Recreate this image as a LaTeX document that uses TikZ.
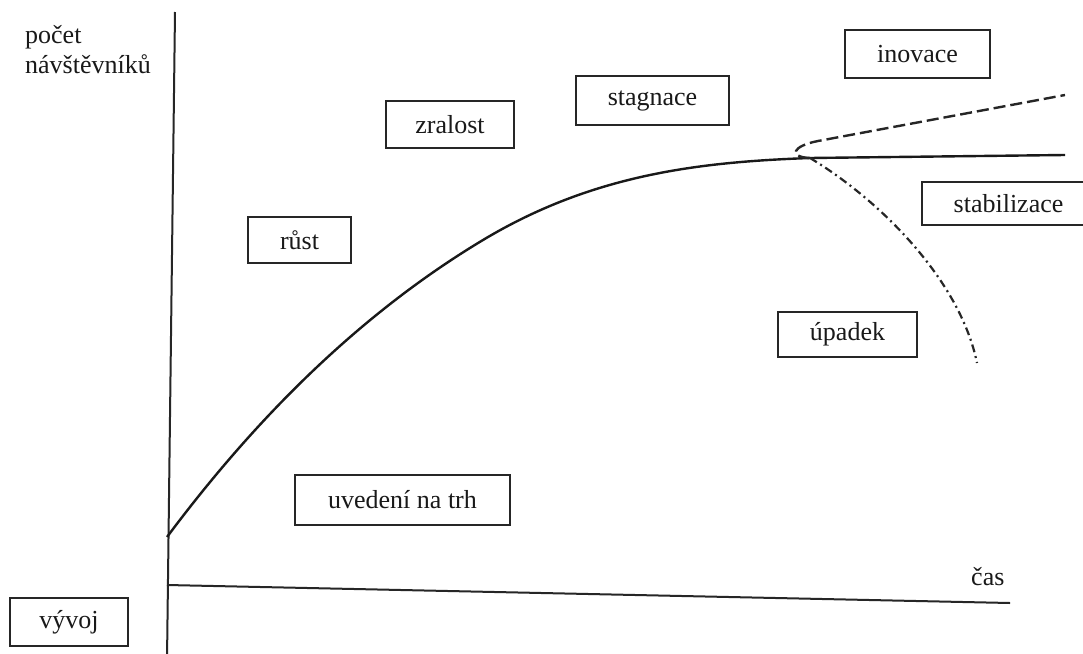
\documentclass[tikz,border=0pt]{standalone}
\usepackage{fontspec}
\setmainfont{Liberation Serif}
\begin{document}
\begin{tikzpicture}[x=1pt,y=-1pt,
  txt/.style={font=\fontsize{26}{30}\selectfont, text=black!90},
  box/.style={txt, draw=black!85, line width=1.5pt, inner sep=0pt},
  lbl/.style={txt, inner sep=0pt},
  axis/.style={line width=2pt, black!85},
  curve/.style={line width=2.4pt, black!90},
  innov/.style={line width=2.4pt, black!85, dash pattern=on 12pt off 5pt},
  decline/.style={line width=2.2pt, black!85, dash pattern=on 8pt off 4pt on 2pt off 4pt}]
\useasboundingbox (0,0) rectangle (1083,653);
\fill[white] (0,0) rectangle (1083,653);
% axes
\coordinate (ytop) at (175,12);
\coordinate (ybot) at (167,660);
\coordinate (xl) at (167,585);
\coordinate (xr) at (1010,603);
\draw[axis] (ytop) -- (ybot);
\draw[axis] (xl) -- (xr);
% labels
\node[lbl, anchor=base west, align=left] (ylab) at (25,73) {počet\\návštěvníků};
\node[lbl, anchor=base west] (cas) at (971,585) {čas};
% boxes
\node[box, minimum width=118pt, minimum height=48pt] (vyvoj) at (69,622) {vývoj};
\node[box, minimum width=215pt, minimum height=50pt] (uvedeni) at (402.5,500) {uvedení na trh};
\node[box, minimum width=103pt, minimum height=46pt] (rust) at (299.5,240) {růst};
\node[box, minimum width=128pt, minimum height=47pt] (zralost) at (450,124.5) {zralost};
\node[box, minimum width=153pt, minimum height=49pt] (stagnace) at (652.5,100.5) {stagnace};
\node[box, minimum width=145pt, minimum height=48pt] (inovace) at (917.5,54) {inovace};
\node[box, minimum width=185pt, minimum height=43pt] (stabilizace) at (1014.5,203.5) {\hspace*{-12pt}stabilizace};
\node[box, minimum width=139pt, minimum height=45pt] (upadek) at (847.5,334.5) {úpadek};
% life-cycle curve
\coordinate (cstart) at (167,537);
\coordinate (cmid) at (483,240);
\coordinate (fork) at (810,158);
\coordinate (cend) at (1065,155);
\draw[curve] (cstart) .. controls (267,403) and (373,306) .. (cmid)
  .. controls (593,174) and (700,162) .. (fork) -- (cend);
% innovation branch
\coordinate (iend) at (1065,95);
\draw[innov] (fork) .. controls (788,157) and (792,146) .. (818,141) -- (iend);
% decline branch
\coordinate (dend) at (977,363);
\draw[decline] (fork) .. controls (880,200) and (960,280) .. (dend);
\end{tikzpicture}
\end{document}
